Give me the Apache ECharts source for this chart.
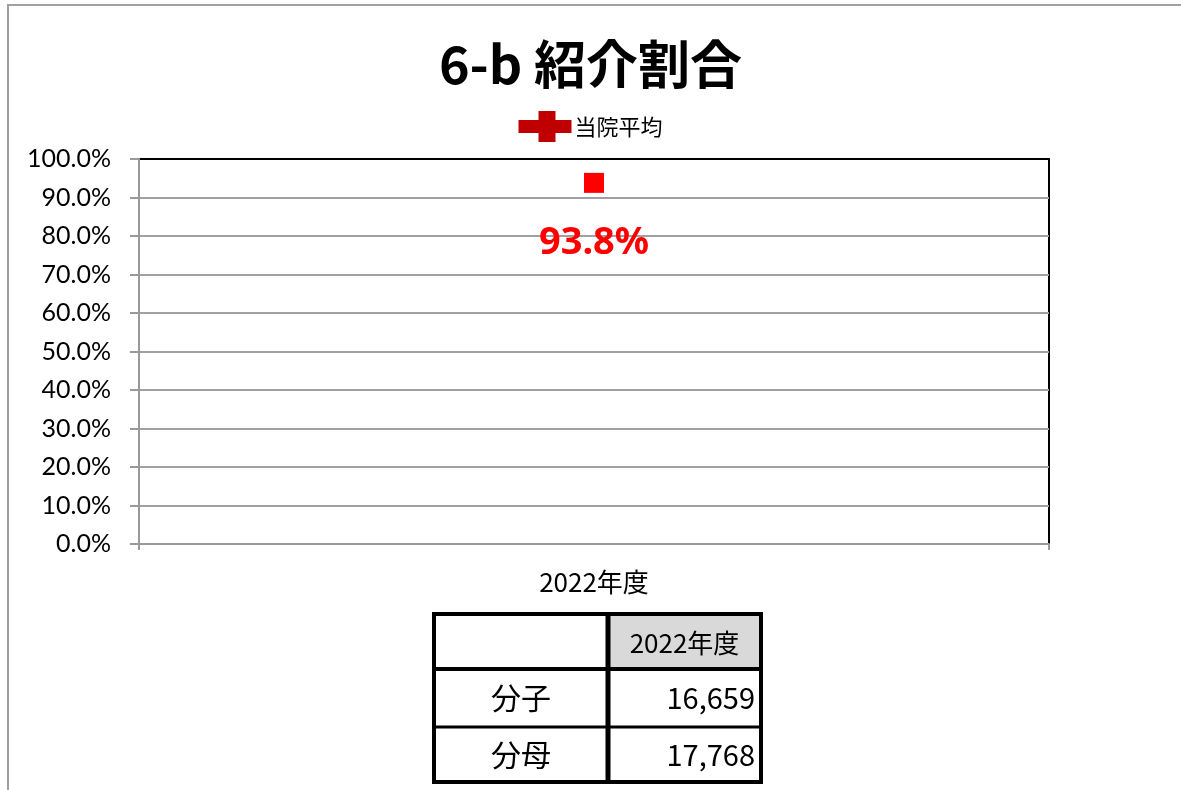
<!DOCTYPE html>
<html>
<head>
<meta charset="utf-8">
<script src="https://cdn.jsdelivr.net/npm/echarts@6/dist/echarts.min.js"></script>
<style>
  html, body { margin: 0; padding: 0; background: #fff; }
  #chart { width: 1181px; height: 790px; }
</style>
</head>
<body>
<div id="chart"></div>
<script>
// データ
const categories = ['2022年度']
const seriesName = '当院平均'
const rateValues = [0.938]
const tableRowLabels = ['分子', '分母']
const tableValues = [16659, 17768]

const jpFont = '"Noto Sans CJK JP", sans-serif'

// 表（分子・分母）
function buildTable() {
  const x0 = 434, y0 = 614, w = 327, h = 168
  const colX = 608
  const rowY = [614, 669, 727, 782]
  const els = []
  // ヘッダーの背景
  els.push({
    type: 'rect',
    shape: { x: colX, y: rowY[0], width: x0 + w - colX, height: rowY[1] - rowY[0] },
    style: { fill: '#d9d9d9' }
  })
  // 外枠
  els.push({
    type: 'rect',
    shape: { x: x0, y: y0, width: w, height: h },
    style: { fill: null, stroke: '#000', lineWidth: 4 }
  })
  // 縦線
  els.push({
    type: 'line',
    shape: { x1: colX, y1: y0, x2: colX, y2: y0 + h },
    style: { stroke: '#000', lineWidth: 5 }
  })
  // 横線
  els.push({
    type: 'line',
    shape: { x1: x0, y1: rowY[1], x2: x0 + w, y2: rowY[1] },
    style: { stroke: '#000', lineWidth: 4 }
  })
  els.push({
    type: 'line',
    shape: { x1: x0, y1: rowY[2], x2: x0 + w, y2: rowY[2] },
    style: { stroke: '#000', lineWidth: 3 }
  })
  // ヘッダー文字
  els.push({
    type: 'text',
    style: {
      text: categories[0], x: (colX + x0 + w) / 2, y: (rowY[0] + rowY[1]) / 2 + 2,
      align: 'center', verticalAlign: 'middle',
      font: '26px ' + jpFont, fill: '#000'
    }
  })
  tableRowLabels.forEach((label, i) => {
    const cy = (rowY[i + 1] + rowY[i + 2]) / 2
    els.push({
      type: 'text',
      style: {
        text: label, x: (x0 + colX) / 2, y: cy,
        align: 'center', verticalAlign: 'middle',
        font: '30px ' + jpFont, fill: '#000'
      }
    })
    els.push({
      type: 'text',
      style: {
        text: tableValues[i].toLocaleString('en-US'), x: x0 + w - 6, y: cy,
        align: 'right', verticalAlign: 'middle',
        font: '29px ' + jpFont, fill: '#000'
      }
    })
  })
  return els
}

const chart = echarts.init(document.getElementById('chart'), null, { renderer: 'canvas' })

chart.setOption({
  animation: false,
  backgroundColor: '#fff',
  title: {
    text: '6-b 紹介割合',
    left: 'center',
    top: 33,
    textStyle: { fontFamily: jpFont, fontSize: 52, fontWeight: 'bold', color: '#000' }
  },
  legend: {
    top: 106,
    left: 'center',
    itemWidth: 53,
    itemHeight: 31,
    itemGap: 5,
    icon: 'path://M0,9 H20 V0 H37 V9 H53 V22 H37 V31 H20 V22 H0 Z',
    data: [{ name: seriesName, itemStyle: { color: '#C00000', opacity: 1 } }],
    textStyle: { fontFamily: jpFont, fontSize: 22, color: '#000', padding: [0, 0, 0, -2] }
  },
  grid: {
    left: 139,
    right: 132,
    top: 159,
    bottom: 246,
    show: true,
    borderColor: '#000',
    borderWidth: 2
  },
  xAxis: {
    type: 'category',
    data: categories,
    boundaryGap: true,
    axisLine: { lineStyle: { color: '#999', width: 2 } },
    axisTick: { show: true, length: 6, lineStyle: { color: '#999', width: 2 } },
    axisLabel: { margin: 25, fontFamily: jpFont, fontSize: 26, color: '#000' }
  },
  yAxis: {
    type: 'value',
    min: 0,
    max: 1,
    interval: 0.1,
    axisLine: { show: true, lineStyle: { color: '#999', width: 2 } },
    axisTick: { show: true, inside: false, length: 9, lineStyle: { color: '#999', width: 2 } },
    splitLine: { showMaxLine: false, lineStyle: { color: '#a0a0a0', width: 2 } },
    axisLabel: {
      margin: 28,
      fontFamily: 'Lato, sans-serif',
      fontSize: 25,
      color: '#000',
      formatter: v => (v * 100).toFixed(1) + '%'
    }
  },
  series: [{
    name: seriesName,
    type: 'scatter',
    data: rateValues,
    symbol: 'rect',
    symbolSize: 20,
    itemStyle: { color: '#FF0000', opacity: 1 },
    label: {
      show: true,
      position: 'bottom',
      distance: 31,
      formatter: p => (p.value * 100).toFixed(1) + '%',
      fontFamily: '"Noto Sans", sans-serif',
      fontSize: 38,
      fontWeight: 'bold',
      color: '#FF0000'
    }
  }],
  graphic: [
    // 外枠（左・上）
    {
      type: 'polyline',
      shape: { points: [[8, 790], [8, 5], [1181, 5]] },
      style: { stroke: '#a0a0a0', lineWidth: 2, fill: null }
    },
    ...buildTable()
  ]
})
</script>
</body>
</html>
